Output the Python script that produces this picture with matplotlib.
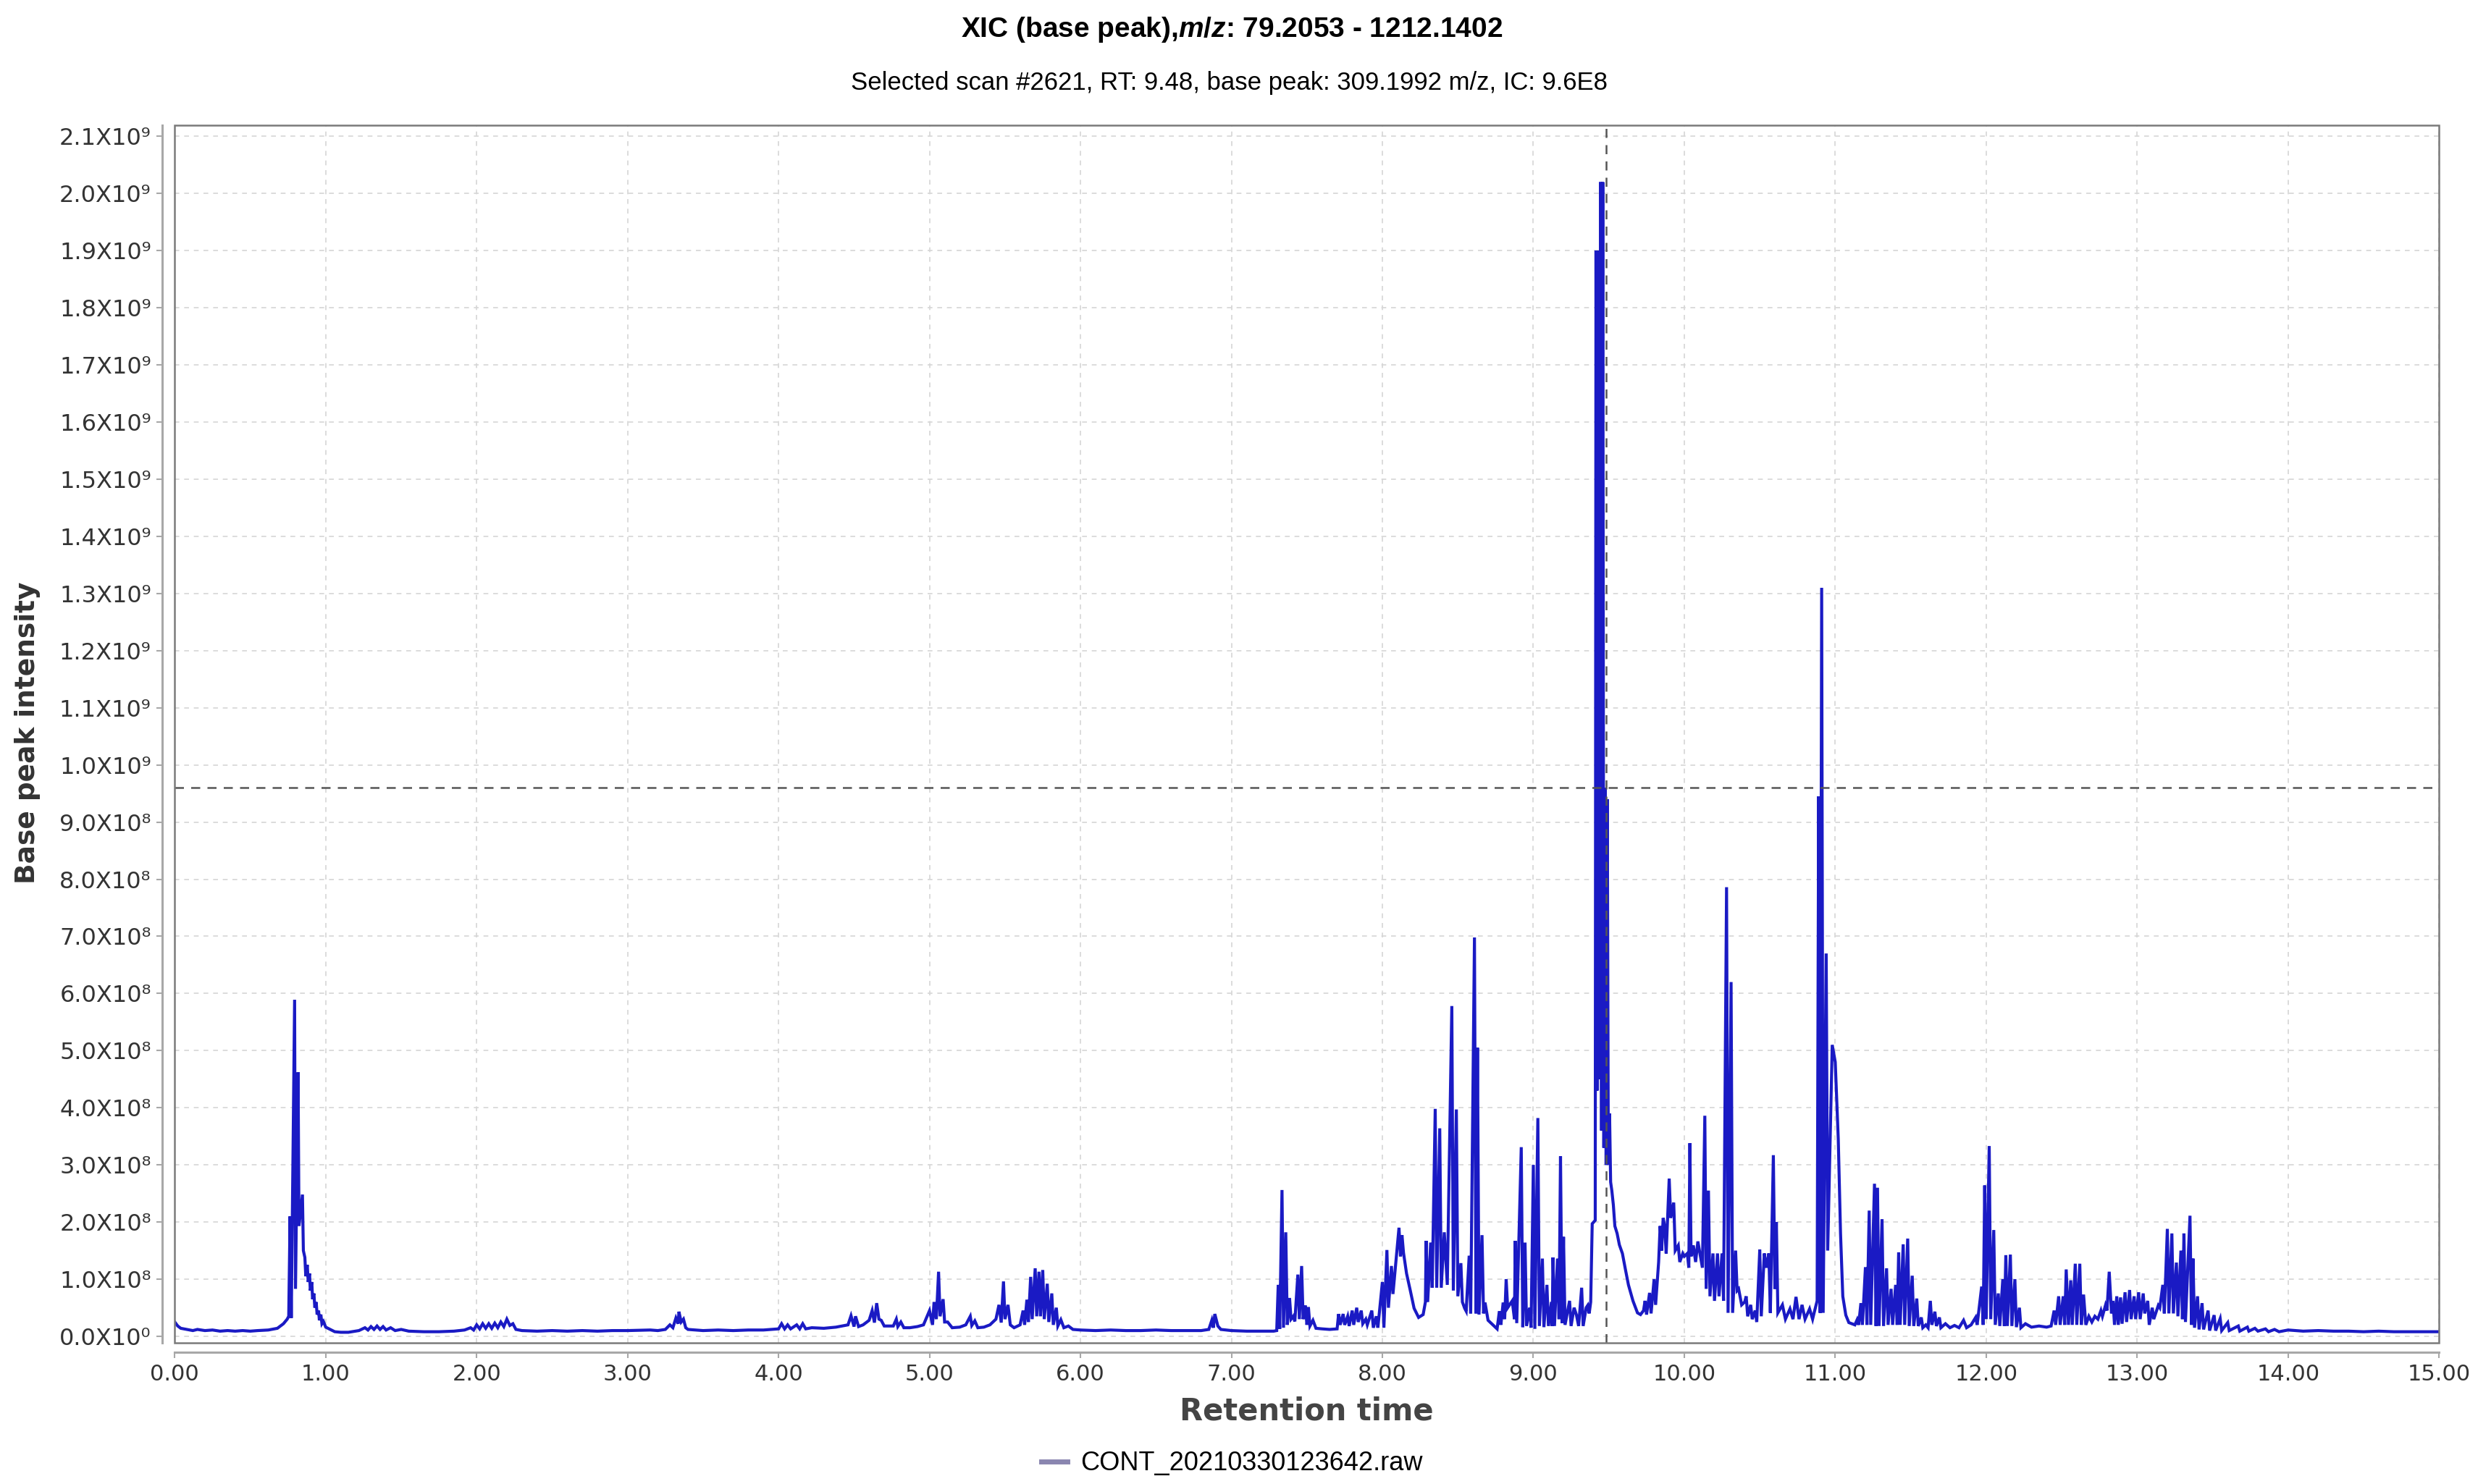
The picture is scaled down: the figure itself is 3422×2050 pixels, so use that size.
import numpy as np
import matplotlib
matplotlib.use("Agg")
import matplotlib.pyplot as plt
from matplotlib.patches import Rectangle
from matplotlib.lines import Line2D
from matplotlib.ticker import FuncFormatter, MultipleLocator

# base peak chromatogram: (retention time [min], intensity [x1e8])
seg_early = [
    (0.00, 0.25), (0.02, 0.18), (0.04, 0.14), (0.08, 0.12), (0.12, 0.10), (0.15, 0.12), (0.20, 0.10),
    (0.25, 0.11), (0.30, 0.09), (0.35, 0.10), (0.40, 0.09), (0.45, 0.10), (0.50, 0.09), (0.55, 0.10),
    (0.62, 0.11), (0.68, 0.14), (0.72, 0.22), (0.745, 0.30), (0.755, 0.35), (0.764, 2.10), (0.772, 0.32),
    (0.794, 5.89), (0.80, 0.83), (0.817, 4.62), (0.823, 1.93), (0.846, 2.48), (0.852, 1.50),
    (0.862, 1.38), (0.868, 1.05), (0.878, 1.25), (0.884, 0.95), (0.893, 1.10), (0.898, 0.80),
    (0.908, 0.95), (0.913, 0.65), (0.922, 0.75), (0.928, 0.50), (0.937, 0.60), (0.943, 0.38),
    (0.953, 0.45), (0.958, 0.28), (0.968, 0.38), (0.975, 0.22), (0.985, 0.26), (1.00, 0.16),
    (1.03, 0.12), (1.06, 0.08), (1.10, 0.07), (1.15, 0.07), (1.22, 0.10), (1.26, 0.15), (1.28, 0.11),
    (1.30, 0.17), (1.32, 0.12), (1.34, 0.18), (1.36, 0.12), (1.38, 0.17), (1.40, 0.11), (1.43, 0.15),
    (1.46, 0.10), (1.50, 0.12), (1.55, 0.09), (1.65, 0.08), (1.75, 0.08), (1.85, 0.09), (1.92, 0.11),
    (1.96, 0.15), (1.98, 0.11), (2.00, 0.20), (2.02, 0.13), (2.04, 0.22), (2.06, 0.14), (2.08, 0.22),
    (2.10, 0.14), (2.12, 0.23), (2.14, 0.15), (2.16, 0.25), (2.18, 0.17), (2.20, 0.30), (2.22, 0.19),
    (2.24, 0.22), (2.26, 0.12), (2.30, 0.10), (2.40, 0.09), (2.50, 0.10), (2.60, 0.09), (2.70, 0.10),
    (2.80, 0.09), (2.90, 0.10), (3.00, 0.10), (3.15, 0.11),
]
seg_middle = [
    (3.20, 0.10), (3.25, 0.12), (3.28, 0.20), (3.30, 0.15), (3.32, 0.32), (3.335, 0.22), (3.34, 0.43),
    (3.355, 0.25), (3.37, 0.30), (3.385, 0.15), (3.40, 0.12), (3.50, 0.10), (3.60, 0.11), (3.70, 0.10),
    (3.80, 0.11), (3.90, 0.11), (4.00, 0.13), (4.02, 0.22), (4.04, 0.13), (4.06, 0.20), (4.08, 0.13),
    (4.12, 0.20), (4.14, 0.13), (4.16, 0.22), (4.18, 0.13), (4.22, 0.15), (4.30, 0.14), (4.38, 0.16),
    (4.42, 0.18), (4.46, 0.20), (4.48, 0.36), (4.50, 0.17), (4.51, 0.35), (4.53, 0.17), (4.56, 0.20),
    (4.60, 0.28), (4.62, 0.45), (4.635, 0.24), (4.65, 0.58), (4.665, 0.30), (4.68, 0.28), (4.70, 0.18),
    (4.76, 0.18), (4.78, 0.30), (4.79, 0.17), (4.81, 0.25), (4.83, 0.15), (4.87, 0.15), (4.92, 0.17),
    (4.96, 0.20), (5.00, 0.45), (5.02, 0.20), (5.03, 0.60), (5.045, 0.30), (5.06, 1.13), (5.07, 0.35),
    (5.09, 0.65), (5.10, 0.25), (5.12, 0.25), (5.15, 0.15), (5.20, 0.16), (5.24, 0.20), (5.27, 0.35),
    (5.28, 0.19), (5.30, 0.27), (5.32, 0.15), (5.36, 0.16), (5.40, 0.20), (5.44, 0.30), (5.46, 0.55),
    (5.475, 0.24), (5.49, 0.96), (5.50, 0.30), (5.52, 0.55), (5.535, 0.20), (5.56, 0.15), (5.60, 0.20),
    (5.62, 0.45), (5.63, 0.20), (5.645, 0.64), (5.655, 0.25), (5.67, 1.04), (5.68, 0.30), (5.70, 1.19),
    (5.71, 0.35), (5.725, 1.13), (5.735, 0.35), (5.75, 1.16), (5.76, 0.30), (5.78, 0.92), (5.79, 0.25),
    (5.81, 0.75), (5.82, 0.20), (5.84, 0.50), (5.85, 0.18), (5.87, 0.29), (5.89, 0.15), (5.92, 0.18),
    (5.95, 0.12), (6.00, 0.11), (6.10, 0.10), (6.20, 0.11), (6.30, 0.10), (6.40, 0.10), (6.50, 0.11),
    (6.60, 0.10), (6.70, 0.10), (6.80, 0.10), (6.85, 0.12), (6.87, 0.28), (6.88, 0.15), (6.89, 0.39),
    (6.91, 0.18), (6.93, 0.12), (7.00, 0.10), (7.10, 0.09), (7.20, 0.09), (7.28, 0.09),
]
seg_busy = [
    (7.30, 0.10), (7.31, 0.90), (7.32, 0.13), (7.335, 2.56), (7.345, 0.15), (7.36, 1.82), (7.37, 0.20),
    (7.385, 0.67), (7.395, 0.30), (7.41, 0.35), (7.42, 0.26), (7.44, 1.08), (7.45, 0.30), (7.465, 1.23),
    (7.475, 0.30), (7.49, 0.54), (7.50, 0.20), (7.51, 0.51), (7.52, 0.18), (7.54, 0.28), (7.56, 0.14),
    (7.60, 0.13), (7.65, 0.12), (7.70, 0.13), (7.71, 0.39), (7.72, 0.20), (7.74, 0.39), (7.75, 0.20),
    (7.77, 0.35), (7.78, 0.18), (7.80, 0.45), (7.81, 0.20), (7.83, 0.50), (7.84, 0.25), (7.86, 0.45),
    (7.87, 0.22), (7.89, 0.30), (7.90, 0.20), (7.93, 0.45), (7.94, 0.15), (7.96, 0.35), (7.97, 0.15),
    (8.00, 0.95), (8.01, 0.15), (8.03, 1.51), (8.04, 0.50), (8.06, 1.23), (8.07, 0.74), (8.11, 1.90),
    (8.12, 1.40), (8.13, 1.77), (8.14, 1.46), (8.16, 1.10), (8.185, 0.80), (8.21, 0.49), (8.24, 0.33),
    (8.27, 0.38), (8.285, 0.60), (8.29, 1.67), (8.30, 0.60), (8.32, 1.64), (8.33, 0.85), (8.35, 3.98),
    (8.36, 0.85), (8.38, 3.64), (8.39, 0.85), (8.41, 1.82), (8.42, 1.36), (8.43, 0.90), (8.46, 5.78),
    (8.47, 0.80), (8.49, 3.97), (8.50, 0.70), (8.52, 1.28), (8.53, 0.60), (8.545, 0.49), (8.555, 0.44),
    (8.575, 1.41), (8.585, 0.40), (8.61, 6.98), (8.62, 0.40), (8.63, 5.05), (8.64, 0.38), (8.66, 1.77),
    (8.67, 0.40), (8.68, 0.59), (8.70, 0.28), (8.74, 0.18), (8.76, 0.13), (8.775, 0.44), (8.785, 0.20),
    (8.80, 0.59), (8.81, 0.30), (8.82, 1.00), (8.83, 0.50), (8.86, 0.62), (8.875, 0.30), (8.88, 1.67),
    (8.89, 0.23), (8.92, 3.31), (8.93, 0.16), (8.945, 1.64), (8.955, 0.18), (8.975, 0.50), (8.985, 0.15),
    (9.00, 3.00), (9.01, 0.13), (9.03, 3.82), (9.04, 0.18), (9.06, 1.36), (9.07, 0.16), (9.09, 0.90),
    (9.10, 0.18), (9.12, 0.60), (9.125, 0.18), (9.13, 1.38), (9.14, 0.18), (9.16, 1.36), (9.17, 0.30),
    (9.18, 3.15), (9.19, 0.23), (9.20, 1.74), (9.21, 0.20), (9.24, 0.62), (9.25, 0.18), (9.27, 0.50),
    (9.285, 0.38), (9.30, 0.18), (9.32, 0.85), (9.33, 0.18), (9.35, 0.50), (9.36, 0.54), (9.37, 0.40),
    (9.38, 0.60), (9.39, 1.97), (9.41, 2.03),
]
seg_main = [
    (9.415, 19.0), (9.422, 4.3), (9.43, 19.0), (9.437, 4.5), (9.445, 20.2), (9.452, 3.6), (9.46, 20.2),
    (9.467, 3.3), (9.475, 9.6), (9.482, 3.0), (9.49, 9.4), (9.497, 3.0), (9.505, 3.9), (9.512, 2.7),
    (9.52, 2.55), (9.53, 2.30), (9.54, 1.93), (9.555, 1.80), (9.57, 1.60), (9.59, 1.45), (9.61, 1.17),
    (9.63, 0.90), (9.66, 0.62), (9.69, 0.41), (9.71, 0.38), (9.73, 0.45), (9.74, 0.62), (9.75, 0.38),
    (9.77, 0.76), (9.78, 0.40), (9.80, 1.00), (9.81, 0.55), (9.83, 1.30), (9.84, 1.93), (9.85, 1.50),
    (9.86, 2.07), (9.87, 1.93), (9.88, 1.45), (9.90, 2.76), (9.91, 2.07), (9.93, 2.34), (9.94, 1.50),
    (9.96, 1.59), (9.97, 1.30), (9.99, 1.45), (10.00, 1.40), (10.02, 1.45), (10.03, 1.20), (10.037, 3.38),
    (10.045, 1.40), (10.06, 1.59), (10.075, 1.30), (10.09, 1.66), (10.11, 1.35), (10.12, 1.20),
    (10.136, 3.86), (10.145, 0.83), (10.16, 2.55), (10.17, 0.70), (10.19, 1.45), (10.20, 0.62),
    (10.22, 1.45), (10.23, 0.70), (10.25, 1.45), (10.26, 0.62), (10.28, 7.86), (10.29, 0.41),
    (10.31, 6.20), (10.32, 0.41), (10.34, 1.50), (10.35, 0.80), (10.36, 0.83), (10.38, 0.55),
    (10.40, 0.60), (10.41, 0.70), (10.42, 0.35), (10.44, 0.55), (10.45, 0.30), (10.47, 0.45),
    (10.48, 0.25), (10.50, 1.52), (10.51, 0.35), (10.53, 1.45), (10.545, 1.20), (10.56, 1.45),
    (10.57, 0.41), (10.59, 3.17), (10.60, 0.83), (10.61, 2.00), (10.62, 0.41), (10.65, 0.55),
    (10.67, 0.30), (10.70, 0.48), (10.72, 0.30), (10.74, 0.69), (10.76, 0.30), (10.78, 0.55),
    (10.80, 0.30), (10.83, 0.48), (10.85, 0.30), (10.86, 0.41), (10.88, 0.62), (10.89, 9.45),
    (10.90, 0.41), (10.91, 13.1), (10.92, 0.41), (10.94, 6.70), (10.95, 1.50), (10.98, 5.10),
    (11.00, 4.80), (11.02, 3.45), (11.035, 1.80), (11.05, 0.70), (11.07, 0.37), (11.09, 0.24),
    (11.11, 0.22),
]
seg_late = [
    (11.13, 0.20), (11.145, 0.29), (11.155, 0.20), (11.17, 0.58), (11.18, 0.20), (11.20, 1.21),
    (11.21, 0.20), (11.225, 2.20), (11.235, 0.20), (11.26, 2.67), (11.27, 0.18), (11.28, 2.60),
    (11.29, 0.18), (11.31, 2.05), (11.32, 0.18), (11.34, 1.19), (11.35, 0.20), (11.37, 0.83),
    (11.38, 0.20), (11.40, 0.90), (11.41, 0.20), (11.42, 1.47), (11.43, 0.20), (11.45, 1.61),
    (11.46, 0.20), (11.48, 1.71), (11.49, 0.18), (11.51, 1.06), (11.52, 0.18), (11.54, 0.66),
    (11.55, 0.18), (11.57, 0.33), (11.58, 0.15), (11.60, 0.20), (11.615, 0.15), (11.63, 0.62),
    (11.64, 0.20), (11.66, 0.43), (11.67, 0.18), (11.69, 0.33), (11.70, 0.15), (11.73, 0.22),
    (11.76, 0.15), (11.79, 0.19), (11.82, 0.15), (11.85, 0.28), (11.87, 0.15), (11.90, 0.20),
    (11.93, 0.33), (11.94, 0.20), (11.97, 0.87), (11.98, 0.20), (11.99, 2.64), (12.00, 0.30),
    (12.02, 3.33), (12.03, 0.30), (12.05, 1.86), (12.06, 0.20), (12.08, 0.75), (12.09, 0.18),
    (12.11, 1.00), (12.12, 0.18), (12.13, 1.42), (12.14, 0.18), (12.16, 1.43), (12.17, 0.18),
    (12.19, 1.00), (12.20, 0.16), (12.22, 0.50), (12.23, 0.15), (12.26, 0.22), (12.30, 0.16),
    (12.35, 0.18), (12.40, 0.16), (12.43, 0.18), (12.45, 0.45), (12.46, 0.20), (12.48, 0.70),
    (12.49, 0.20), (12.51, 0.70), (12.52, 0.20), (12.53, 1.17), (12.545, 0.20), (12.56, 0.98),
    (12.57, 0.20), (12.59, 1.27), (12.60, 0.20), (12.62, 1.27), (12.63, 0.20), (12.645, 0.73),
    (12.66, 0.20), (12.68, 0.35), (12.70, 0.25), (12.72, 0.35), (12.74, 0.30), (12.76, 0.45),
    (12.77, 0.35), (12.79, 0.54), (12.80, 0.45), (12.815, 1.13), (12.83, 0.40), (12.84, 0.62),
    (12.85, 0.20), (12.865, 0.70), (12.875, 0.20), (12.89, 0.68), (12.90, 0.22), (12.92, 0.77),
    (12.93, 0.25), (12.95, 0.81), (12.96, 0.30), (12.98, 0.70), (12.99, 0.30), (13.01, 0.77),
    (13.02, 0.30), (13.04, 0.75), (13.05, 0.40), (13.07, 0.62), (13.08, 0.20), (13.10, 0.50),
    (13.11, 0.30), (13.14, 0.54), (13.15, 0.50), (13.17, 0.90), (13.18, 0.40), (13.20, 1.88),
    (13.21, 0.40), (13.23, 1.80), (13.24, 0.40), (13.26, 1.29), (13.27, 0.35), (13.29, 1.50),
    (13.30, 0.30), (13.31, 1.80), (13.32, 0.25), (13.35, 2.11), (13.36, 0.20), (13.37, 1.36),
    (13.38, 0.15), (13.40, 0.70), (13.41, 0.12), (13.43, 0.58), (13.44, 0.12), (13.47, 0.45),
    (13.48, 0.10), (13.51, 0.37), (13.52, 0.10), (13.55, 0.31), (13.56, 0.10), (13.60, 0.24),
    (13.61, 0.10), (13.67, 0.18), (13.68, 0.09), (13.73, 0.16), (13.74, 0.09), (13.78, 0.14),
    (13.80, 0.09), (13.85, 0.13), (13.87, 0.08), (13.91, 0.12), (13.94, 0.08), (14.00, 0.11),
    (14.10, 0.09), (14.20, 0.10), (14.30, 0.09), (14.40, 0.09), (14.50, 0.08), (14.60, 0.09),
    (14.70, 0.08), (14.80, 0.08), (14.90, 0.08), (15.00, 0.08),
]

selected_rt = 9.48
selected_ic = 9.6  # x1e8
sample_name = "CONT_20210330123642.raw"

points = np.array(seg_early + seg_middle + seg_busy + seg_main + seg_late)
rt = points[:, 0]
inten = points[:, 1]

plt.rcParams["font.family"] = "DejaVu Sans"
plt.rcParams["mathtext.fontset"] = "custom"
plt.rcParams["mathtext.it"] = "Liberation Sans:bold:italic"
plt.rcParams["mathtext.rm"] = "Liberation Sans:bold"

fig = plt.figure(figsize=(34.23, 20.5), dpi=100)
ax = fig.add_axes([0.0705, 0.0953, 0.9135, 0.8201])

ax.plot(rt, inten, color="#1a1ac4", lw=3.0, solid_joinstyle="miter")

ax.axvline(selected_rt, color="#555555", lw=1.8, ls=(0, (5, 4)))
ax.axhline(selected_ic, color="#555555", lw=1.8, ls=(0, (5, 4)))

ax.set_xlim(0, 15)
ax.set_ylim(-0.11, 21.19)
ax.xaxis.set_major_locator(MultipleLocator(1))
ax.yaxis.set_major_locator(MultipleLocator(1))
ax.xaxis.set_major_formatter(FuncFormatter(lambda v, p: f"{v:.2f}"))


def sci_label(v, pos):
    if v < 0.5:
        return "0.0X10\u2070"
    if v < 9.5:
        return f"{v:.1f}X10\u2078"
    return f"{v / 10:.1f}X10\u2079"


ax.yaxis.set_major_formatter(FuncFormatter(sci_label))
ax.grid(True, color="#d6d6d6", lw=1.2, ls=(0, (4, 4)))

for s in ["top", "right"]:
    ax.spines[s].set_visible(False)
ax.spines["left"].set_position(("outward", 12.5))
ax.spines["bottom"].set_position(("outward", 9.5))
for s in ["left", "bottom"]:
    ax.spines[s].set_color("#a8a8a8")
    ax.spines[s].set_linewidth(2.2)
ax.add_patch(Rectangle((0, 0), 1, 1, transform=ax.transAxes, fill=False,
                       ec="#7a7a7a", lw=1.8, clip_on=False, zorder=5))

ax.tick_params(axis="both", colors="#a8a8a8", length=6, width=1.5, labelcolor="#333333")
ax.tick_params(axis="y", labelsize=23, pad=5)
ax.tick_params(axis="x", labelsize=22, pad=6)

fig.text(0.0112, 0.506, "Base peak intensity", rotation=90, ha="center", va="center",
         fontsize=27, fontweight="bold", color="#333333")
fig.text(0.527, 0.049, "Retention time", ha="center", va="center",
         fontsize=30, fontweight="bold", color="#444444")

fig.text(0.497, 0.980, r"XIC (base peak),$\mathit{m/z}$: 79.2053 - 1212.1402", ha="center", va="center",
         fontsize=28, fontweight="bold", family="Liberation Sans")
fig.text(0.496, 0.944, "Selected scan #2621, RT: 9.48, base peak: 309.1992 m/z, IC: 9.6E8",
         ha="center", va="center", fontsize=25, family="Liberation Sans")

handle = Line2D([], [], color="#8a86b0", lw=5)
fig.legend([handle], [sample_name], loc="center", bbox_to_anchor=(0.497, 0.0137), frameon=False,
           prop={"family": "Liberation Sans", "size": 26}, handlelength=1.0, handletextpad=0.5)

fig.savefig("out.png", dpi=100)
